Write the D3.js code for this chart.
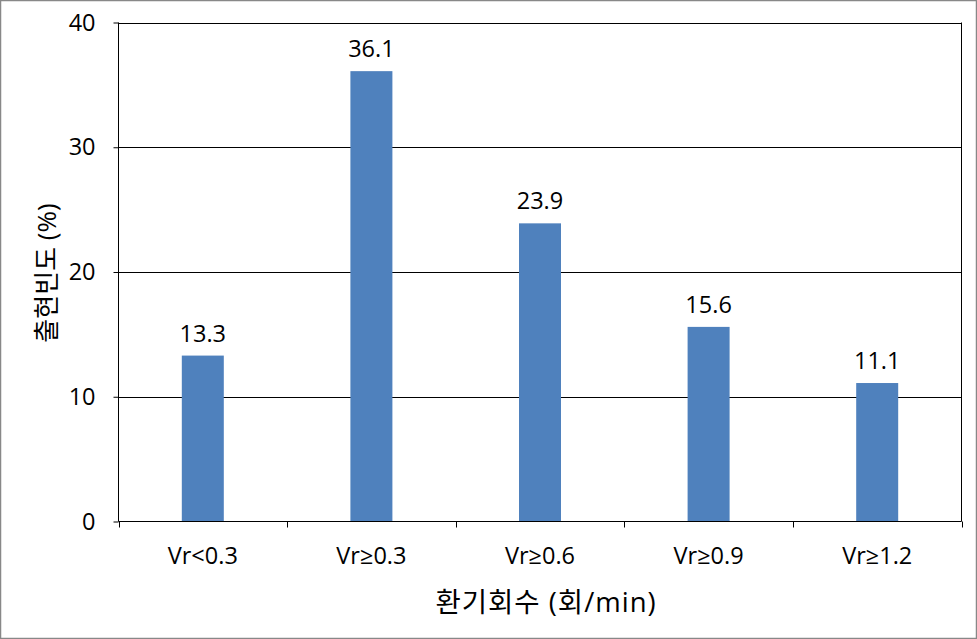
<!DOCTYPE html>
<html><head><meta charset="utf-8">
<script src="https://cdn.jsdelivr.net/npm/d3@7"></script>
<style>body{margin:0;background:#fff}svg{display:block}</style>
</head><body>
<svg id="c" width="977" height="639"></svg>
<script>
const categories = ["Vr<0.3", "Vr≥0.3", "Vr≥0.6", "Vr≥0.9", "Vr≥1.2"];
const values = [13.3, 36.1, 23.9, 15.6, 11.1];
const yTicks = [0, 10, 20, 30, 40];
const xTitle = "환기회수 (회/min)";
const yTitle = "출현빈도 (%)";

const svg = d3.select("#c");
const W = 977, H = 639;
const m = {l: 118.5, r: 961.5, t: 22.5, b: 521.5};
const font = "'Open Sans', 'Noto Sans CJK KR', sans-serif";

svg.append("rect").attr("x", 0.5).attr("y", 0.5).attr("width", W - 1).attr("height", H - 1)
  .attr("fill", "#fff").attr("stroke", "#888").attr("stroke-width", 1.5);

const x = d3.scaleBand().domain(categories).range([m.l, m.r]).paddingInner(0).paddingOuter(0);
const y = d3.scaleLinear().domain([0, 40]).range([m.b, m.t]);

// gridlines
svg.append("g").selectAll("line").data(yTicks.filter(d => d > 0)).join("line")
  .attr("x1", m.l).attr("x2", m.r).attr("y1", d => Math.round(y(d)) + 0.5).attr("y2", d => Math.round(y(d)) + 0.5)
  .attr("stroke", "#000").attr("stroke-width", 1);
// right border
svg.append("line").attr("x1", m.r).attr("x2", m.r).attr("y1", m.t).attr("y2", m.b).attr("stroke", "#000");

// bars
const bw = 42;
svg.append("g").selectAll("rect").data(values).join("rect")
  .attr("x", (d, i) => x(categories[i]) + x.bandwidth() / 2 - bw / 2)
  .attr("y", d => y(d)).attr("width", bw).attr("height", d => y(0) - y(d))
  .attr("fill", "#4f81bd");

// data labels
svg.append("g").selectAll("text").data(values).join("text")
  .attr("x", (d, i) => x(categories[i]) + x.bandwidth() / 2)
  .attr("y", d => y(d) - 14)
  .attr("text-anchor", "middle").attr("font-family", font).attr("font-size", 23.5).attr("fill", "#000")
  .text(d => d.toFixed(1));

// y axis
const ya = d3.axisLeft(y).tickValues(yTicks).tickSize(5).tickPadding(18).tickFormat(d3.format("d"));
const yg = svg.append("g").attr("transform", `translate(${m.l},0)`).call(ya);
yg.select(".domain").attr("d", `M0,${m.t}V${m.b}`).attr("stroke", "#000");
yg.selectAll(".tick line").attr("stroke", "#000");
yg.selectAll("text").attr("font-family", font).attr("font-size", 23.5).attr("fill", "#000");

// x axis
const xa = d3.axisBottom(x).tickSize(0);
const xg = svg.append("g").attr("transform", `translate(0,${m.b})`).call(xa);
xg.select(".domain").attr("d", `M${m.l},0H${m.r}`).attr("stroke", "#000");
xg.selectAll("text").attr("y", 42).attr("dy", 0).attr("font-family", font).attr("font-size", 23.5).attr("fill", "#000");
// boundary ticks
const bounds = categories.map(c => x(c)).concat([x.range()[1]]);
xg.append("g").selectAll("line").data(bounds).join("line")
  .attr("x1", d => Math.round(d) + 0.5).attr("x2", d => Math.round(d) + 0.5).attr("y1", 0).attr("y2", 6)
  .attr("stroke", "#000");

// titles
svg.append("text").attr("x", 546).attr("y", 612).attr("text-anchor", "middle")
  .attr("font-family", font).attr("font-size", 27.5).attr("letter-spacing", 1).attr("fill", "#000").text(xTitle);
svg.append("text").attr("transform", `translate(56,273) rotate(-90)`).attr("text-anchor", "middle")
  .attr("font-family", font).attr("font-size", 26).attr("fill", "#000").text(yTitle);
</script>
</body></html>
